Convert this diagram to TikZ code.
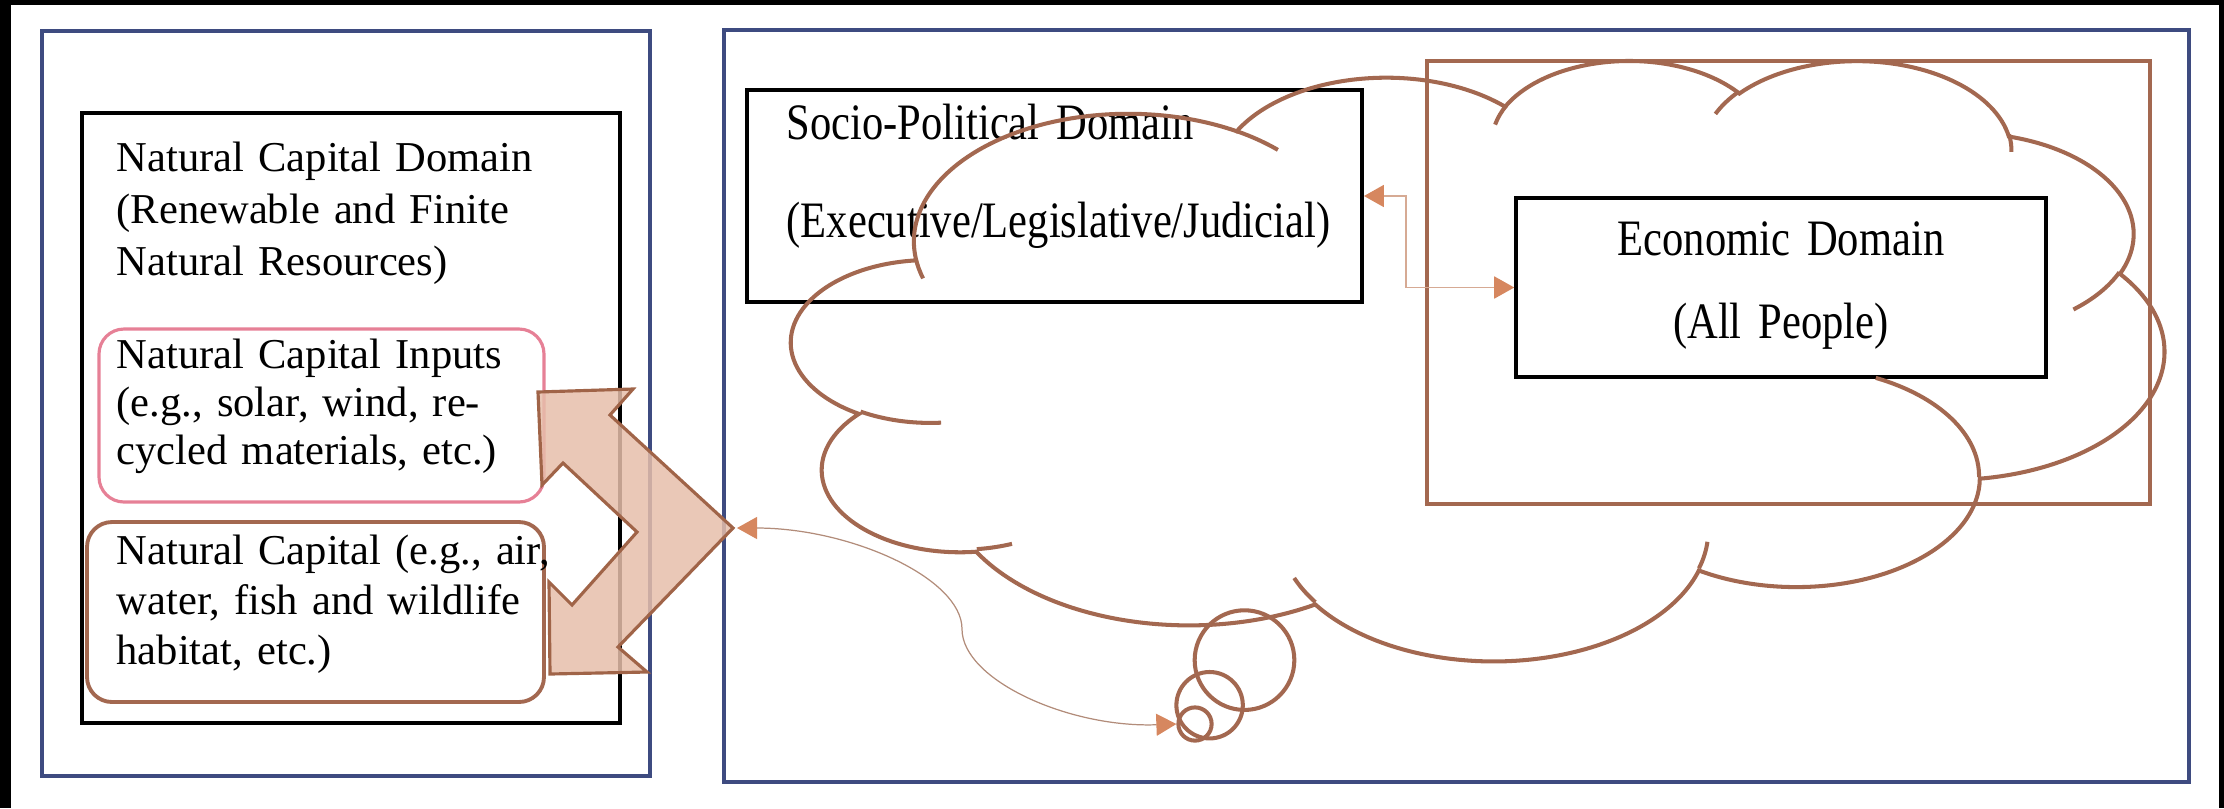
\documentclass[tikz,border=0pt]{standalone}
\usepackage{fontspec}
\setmainfont{Liberation Serif}
\newfontfamily\tallserif[FakeStretch=0.8333]{Liberation Serif}
\usetikzlibrary{arrows.meta,fit}

\definecolor{panelblue}{RGB}{62,75,128}
\definecolor{cloudbrown}{RGB}{163,104,80}
\definecolor{inputpink}{RGB}{230,128,150}
\definecolor{flowfill}{RGB}{230,190,170}
\definecolor{flowline}{RGB}{160,100,72}
\definecolor{linkline}{RGB}{214,170,148}
\definecolor{linkhead}{RGB}{214,135,95}
\definecolor{curveline}{RGB}{178,140,122}

\newcommand\diagfont{\fontsize{12.1pt}{14.3pt}\selectfont}
\newcommand\domainfont{\tallserif\fontsize{14.52pt}{14.3pt}\selectfont}

\tikzset{
  panel/.style={draw=panelblue, line width=1.22pt, inner sep=0pt},
  domainbox/.style={draw=black, line width=0.9pt, inner sep=0pt},
  brownframe/.style={draw=cloudbrown, line width=1.28pt, inner sep=0pt},
  inputbox/.style={draw=inputpink, line width=0.9pt, rounded corners=0.25cm, inner sep=0pt},
  capitalbox/.style={draw=cloudbrown, line width=1.1pt, rounded corners=0.25cm, inner sep=0pt},
  txt/.style={font=\diagfont, inner sep=0pt, text width=5cm, align=left},
  cloudline/.style={draw=cloudbrown, line width=1.15pt},
  bubble/.style={circle, draw=cloudbrown, line width=1.15pt, inner sep=0pt},
  linkarrow/.style={draw=linkline, line width=0.5pt,
    {Triangle[length=0.2cm,width=0.22cm,color=linkhead]}-{Triangle[length=0.2cm,width=0.22cm,color=linkhead]}},
  curvelink/.style={draw=curveline, line width=0.35pt,
    {Triangle[length=0.2cm,width=0.22cm,color=linkhead]}-{Triangle[length=0.2cm,width=0.22cm,color=linkhead]}},
}

\begin{document}
\begin{tikzpicture}[x=0.01cm, y=-0.01cm]
\useasboundingbox (0,0) rectangle (2224,808);

% dark margins of the scan
\fill[black] (0,0) rectangle (2224,5);
\fill[black] (0,0) rectangle (11,808);
\fill[black] (2219,0) rectangle (2224,808);

% outer panels
\node[panel, fit={(42,31) (650,776)}] (natpanel) {};
\node[panel, fit={(724,30) (2189,782)}] (govpanel) {};

% natural capital side
\node[domainbox, fit={(82,113) (620,723)}] (natdomain) {};
\node[inputbox, fit={(99,329) (544,502)}] (inputs) {};
\node[capitalbox, fit={(87,522) (544,702)}] (capital) {};

\node[txt, anchor=base west, font=\fontsize{12.1pt}{14.8pt}\selectfont] (natdomtxt) at (116,171)
  {Natural Capital Domain\\(Renewable and Finite\\Natural Resources)};
\node[txt, anchor=base west, font=\fontsize{12.1pt}{13.7pt}\selectfont] (inputstxt) at (116,368)
  {Natural Capital Inputs\\(e.g., solar, wind, re-\\cycled materials, etc.)};
\node[txt, anchor=base west, font=\fontsize{12.1pt}{14.3pt}\selectfont] (capitaltxt) at (116,564)
  {Natural Capital (e.g., air,\\water, fish and wildlife\\habitat, etc.)};

% socio-political and economic domains
\node[domainbox, line width=1.1pt, fit={(747,90) (1362,302)}] (socio) {};
\node[txt, anchor=base west, text width=6cm, font=\domainfont] (sociotxt) at (786,139)
  {Socio-Political Domain\\[13.6pt](Executive/Legislative/Judicial)};
\node[brownframe, fit={(1427,61) (2150,504)}] (econframe) {};
\node[domainbox, line width=1pt, fit={(1516,198) (2046,377)}] (econ) {};
\node[txt, anchor=base, align=center, font=\domainfont] (econtxt) at (1781,255)
  {Economic Domain\\[9.3pt](All People)};

% flow arrow from the natural capital boxes
\filldraw[fill=flowfill, fill opacity=0.85, draw=flowline, line width=0.9pt, line join=miter]
  (538,392) -- (633,389) -- (610,415) -- (733,528) -- (618,647) -- (647,672)
  -- (550,674) -- (549,582) -- (572,605) -- (637,532) -- (563,463) -- (542,485) -- cycle;
\coordinate (flowtip) at (737,528);

% thought cloud (outline and inner puff arcs)
\begin{scope}[shift={(792,59)}, x=0.0031782cm, y=-0.0013843cm]
  \draw[cloudline] (390,1437)
    arc[start angle=-187.746, delta angle=128.103, x radius=675.3, y radius=919.0]
    arc[start angle=-152.024, delta angle=106.592, x radius=533.3, y radius=726.7]
    arc[start angle=-153.48,  delta angle=116.18,  x radius=436.5, y radius=594.5]
    arc[start angle=-139.710, delta angle=129.498, x radius=485.7, y radius=659.5]
    arc[start angle=-74.768,  delta angle=97.981,  x radius=533.3, y radius=727.3]
    arc[start angle=-37.531,  delta angle=119.393, x radius=677.5, y radius=922.0]
    arc[start angle=0.4596,   delta angle=121.520, x radius=578.5, y radius=786.7]
    arc[start angle=16.845,   delta angle=129.445, x radius=675.2, y radius=921.5]
    arc[start angle=58.989,   delta angle=91.211,  x radius=772.0, y radius=1054.3]
    arc[start angle=-276.694, delta angle=139.785, x radius=436.0, y radius=591.8]
    arc[start angle=-239.649, delta angle=143.762, x radius=434.5, y radius=594.5]
    -- cycle;
  \draw[cloudline]
    (469.3,2617.7)  arc[start angle=85.547,   delta angle=34.804, x radius=434.5, y radius=594.5]
    (692.8,3489.9)  arc[start angle=68.236,   delta angle=15.070, x radius=436.0, y radius=591.8]
    (1647.8,3909.0) arc[start angle=146.290,  delta angle=12.182, x radius=675.2, y radius=921.5]
    (2882.7,3475.1) arc[start angle=4.738,    delta angle=12.107, x radius=675.2, y radius=921.5]
    (3412.9,2295.4) arc[start angle=-64.029,  delta angle=64.489, x radius=578.5, y radius=786.7]
    (4179.8,1535.4) arc[start angle=23.213,   delta angle=26.417, x radius=533.3, y radius=727.3]
    (3832.4,542.6)  arc[start angle=-10.212,  delta angle=11.033, x radius=485.7, y radius=659.5]
    (2907.8,395.2)  arc[start angle=-156.286, delta angle=16.576, x radius=485.7, y radius=659.5]
    (2214.1,472.0)  arc[start angle=-167.726, delta angle=14.246, x radius=436.5, y radius=594.5]
    (1400.0,519.2)  arc[start angle=-59.643,  delta angle=13.906, x radius=675.3, y radius=919.0]
    (412.7,1578.9)  arc[start angle=163.194,  delta angle=9.060,  x radius=675.3, y radius=919.0];
\end{scope}

% thought bubbles below the cloud
\node[bubble, minimum size=0.996cm] (tailbig) at (1244.5,660.1) {};
\node[bubble, minimum size=0.664cm] (tailmid) at (1209.6,705.2) {};
\node[bubble, minimum size=0.332cm] (tailsmall) at (1195,724) {};

% connectors
\draw[linkarrow] (socio.east) -- ++(42,0) |- (econ.west);
\draw[curvelink] (flowtip) .. controls (850,528) and (962,578) .. (962,629)
  .. controls (962,680) and (1069,728) .. (tailsmall.west);

\end{tikzpicture}
\end{document}
